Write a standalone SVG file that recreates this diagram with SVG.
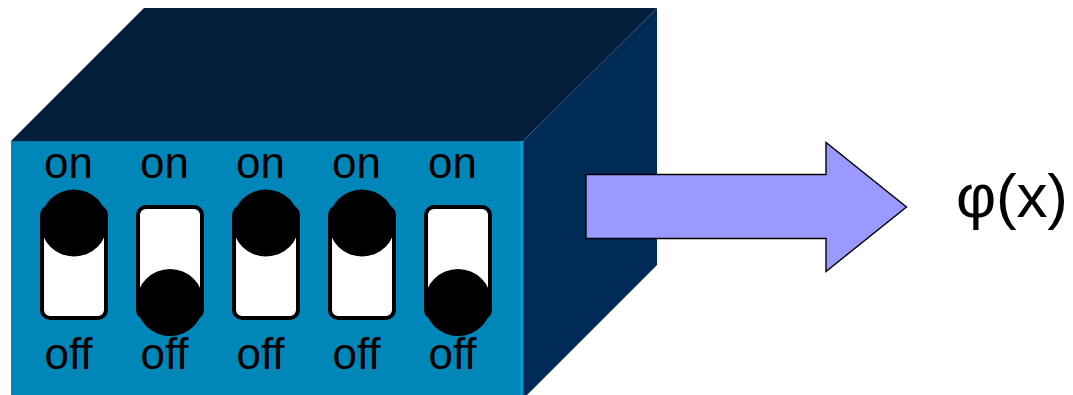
<svg xmlns="http://www.w3.org/2000/svg" width="1073" height="395" viewBox="0 0 1073 395">
  <style>
    .lbl { font-family: "Liberation Sans", Arial, sans-serif; font-size: 44px; fill: #000; text-anchor: middle; }
    .slot { fill: #fff; stroke: #000; stroke-width: 4; }
    .knob { fill: #000; }
    .out { font-family: "Liberation Sans", Arial, sans-serif; font-size: 62px; fill: #000; }
  </style>
  <defs>
    <!-- one DIP switch slot, centred on x=0; knob y set per state -->
    <rect id="slot" class="slot" x="-32" y="207" width="64" height="111" rx="8" ry="8"/>
  </defs>

  <!-- box body -->
  <g id="box">
    <polygon points="11,141 144,8 657,8 523,141" fill="#021e3b"/>
    <polygon points="523,141 657,8 657,265 523,399" fill="#002b57"/>
    <rect x="11" y="141" width="512" height="260" fill="#0086b8"/>
    <line x1="11" y1="141.8" x2="523" y2="141.8" stroke="#0a79a8" stroke-width="1.5"/>
    <line x1="521.8" y1="141" x2="521.8" y2="395" stroke="#0a9bd6" stroke-width="3"/>
  </g>

  <!-- switch 1: on -->
  <g id="switch1" transform="translate(74,0)">
    <text class="lbl" x="-5.5" y="177.5">on</text>
    <use href="#slot"/>
    <circle class="knob" cx="0" cy="223" r="33.5"/>
    <text class="lbl" x="-5.5" y="369">off</text>
  </g>

  <!-- switch 2: off -->
  <g id="switch2" transform="translate(170,0)">
    <text class="lbl" x="-5.5" y="177.5">on</text>
    <use href="#slot"/>
    <circle class="knob" cx="0" cy="302.5" r="33.5"/>
    <text class="lbl" x="-5.5" y="369">off</text>
  </g>

  <!-- switch 3: on -->
  <g id="switch3" transform="translate(266,0)">
    <text class="lbl" x="-5.5" y="177.5">on</text>
    <use href="#slot"/>
    <circle class="knob" cx="0" cy="223" r="33.5"/>
    <text class="lbl" x="-5.5" y="369">off</text>
  </g>

  <!-- switch 4: on -->
  <g id="switch4" transform="translate(362,0)">
    <text class="lbl" x="-5.5" y="177.5">on</text>
    <use href="#slot"/>
    <circle class="knob" cx="0" cy="223" r="33.5"/>
    <text class="lbl" x="-5.5" y="369">off</text>
  </g>

  <!-- switch 5: off -->
  <g id="switch5" transform="translate(458,0)">
    <text class="lbl" x="-5.5" y="177.5">on</text>
    <use href="#slot"/>
    <circle class="knob" cx="0" cy="302.5" r="33.5"/>
    <text class="lbl" x="-5.5" y="369">off</text>
  </g>

  <!-- block arrow from the box to the output -->
  <g id="connectors">
    <polygon points="586,174.5 826,174.5 826,142.5 906.5,207 826,271.5 826,238.5 586,238.5" fill="#9999ff" stroke="#000" stroke-width="1.4" stroke-linejoin="miter"/>
  </g>

  <!-- output label -->
  <g id="output">
    <text class="out" x="956" y="216.5" textLength="112" lengthAdjust="spacing">φ(x)</text>
  </g>
</svg>
